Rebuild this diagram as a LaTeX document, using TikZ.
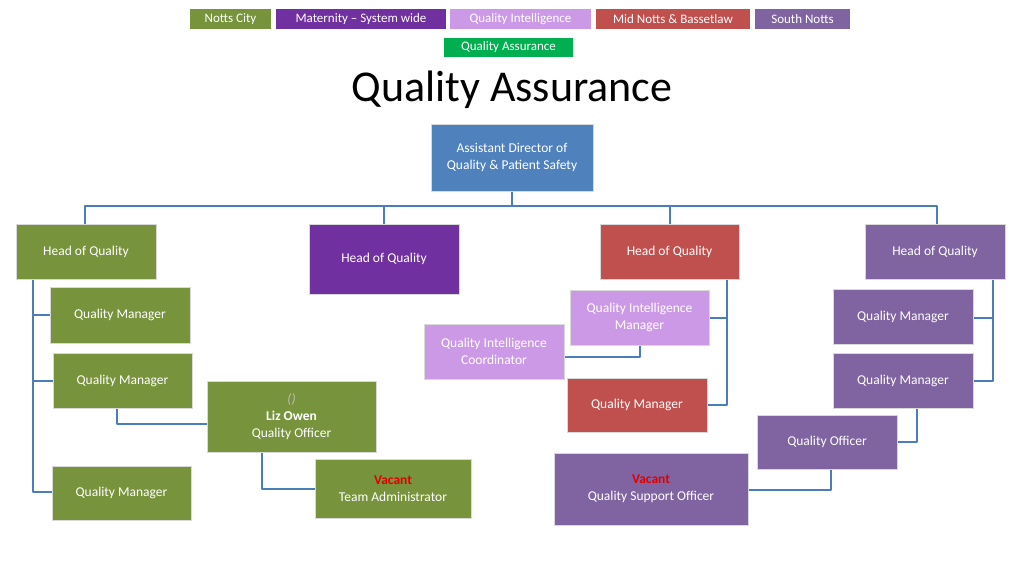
\documentclass[tikz,border=0pt]{standalone}
\usepackage{fontspec}
\setmainfont{Carlito}
\definecolor{cg}{HTML}{77933C}
\definecolor{cp}{HTML}{7030A0}
\definecolor{cl}{HTML}{CC99E6}
\definecolor{cr}{HTML}{C0504D}
\definecolor{cs}{HTML}{8064A2}
\definecolor{cq}{HTML}{00B050}
\definecolor{cb}{HTML}{4F81BD}
\definecolor{ln}{HTML}{4A7EBB}
\definecolor{vac}{HTML}{E00000}
\begin{document}
\begin{tikzpicture}[x=1pt,y=-1pt,
 bx/.style={draw=white!85!black,line width=0.6pt,text=white,align=center,font=\fontsize{13.5}{17}\selectfont,inner sep=0pt},
 lg/.style={text=white,align=center,font=\fontsize{13}{15}\selectfont,inner sep=0pt},
 cn/.style={draw=ln,line width=2.8pt,line join=round}]
\useasboundingbox (0,0) rectangle (1024,575);
\newcommand{\bxx}[7]{\node[bx,fill=#6,minimum width=#3-#1,minimum height=#4-#2] (#5) at ({(#1+#3)/2},{(#2+#4)/2}) {#7};}
\newcommand{\lgg}[6]{\node[lg,fill=#5,minimum width=#3-#1,minimum height=#4-#2] at ({(#1+#3)/2},{(#2+#4)/2}) {#6};}
% legend
\lgg{190}{9}{271}{29}{cg}{Notts City}
\lgg{276}{9}{446}{29}{cp}{Maternity – System wide}
\lgg{450}{9}{591}{29}{cl}{Quality Intelligence}
\lgg{596}{9}{750}{29}{cr}{Mid Notts \& Bassetlaw}
\lgg{755}{9}{850}{29}{cs}{South Notts}
\lgg{444}{38}{573}{57}{cq}{Quality Assurance}
\node[font=\fontsize{44}{50}\selectfont] (title) at (512,90) {Quality Assurance};
% connectors (drawn first)
\coordinate (b0) at (512,191);
\draw[cn] (512,191) -- (512,206);
\draw[cn] (85,224) -- (85,206) -- (937,206) -- (937,224);
\draw[cn] (384,206) -- (384,224);
\draw[cn] (670,206) -- (670,224);
\draw[cn] (33,279) -- (33,492) -- (52,492);
\draw[cn] (33,315) -- (50,315);
\draw[cn] (33,381) -- (53,381);
\draw[cn] (117,408) -- (117,424) -- (207,424);
\draw[cn] (262,452) -- (262,489) -- (315,489);
\draw[cn] (727,279) -- (727,405) -- (707,405);
\draw[cn] (727,318) -- (709,318);
\draw[cn] (640,345) -- (640,357) -- (564,357);
\draw[cn] (993,279) -- (993,381) -- (973,381);
\draw[cn] (993,318) -- (973,318);
\draw[cn] (917,408) -- (917,442) -- (897,442);
\draw[cn] (831,469) -- (831,490) -- (748,490);
% boxes
\bxx{431}{124}{593}{191}{ad}{cb}{Assistant Director of\\Quality \& Patient Safety}
\bxx{16}{224}{156}{279}{hg}{cg}{Head of Quality}
\bxx{309}{224}{459}{294}{hp}{cp}{Head of Quality}
\bxx{600}{224}{739}{279}{hr}{cr}{Head of Quality}
\bxx{865}{224}{1005}{279}{hs}{cs}{Head of Quality}
\bxx{50}{287}{190}{343}{qm1}{cg}{Quality Manager}
\bxx{53}{353}{192}{408}{qm2}{cg}{Quality Manager}
\bxx{52}{466}{191}{520}{qm3}{cg}{Quality Manager}
\bxx{207}{381}{376}{452}{liz}{cg}{{\color{white!75!black}\itshape()}\\\textbf{Liz Owen}\\Quality Officer}
\bxx{315}{459}{471}{518}{ta}{cg}{\textcolor{vac}{\textbf{Vacant}}\\Team Administrator}
\bxx{570}{290}{709}{345}{qim}{cl}{Quality Intelligence\\Manager}
\bxx{424}{324}{564}{379}{qic}{cl}{Quality Intelligence\\Coordinator}
\bxx{567}{378}{707}{432}{qmr}{cr}{Quality Manager}
\bxx{833}{289}{973}{344}{qs1}{cs}{Quality Manager}
\bxx{833}{353}{973}{408}{qs2}{cs}{Quality Manager}
\bxx{757}{415}{897}{469}{qos}{cs}{Quality Officer}
\bxx{554}{453}{748}{525}{qso}{cs}{\textcolor{vac}{\textbf{Vacant}}\\Quality Support Officer}
\end{tikzpicture}
\end{document}
